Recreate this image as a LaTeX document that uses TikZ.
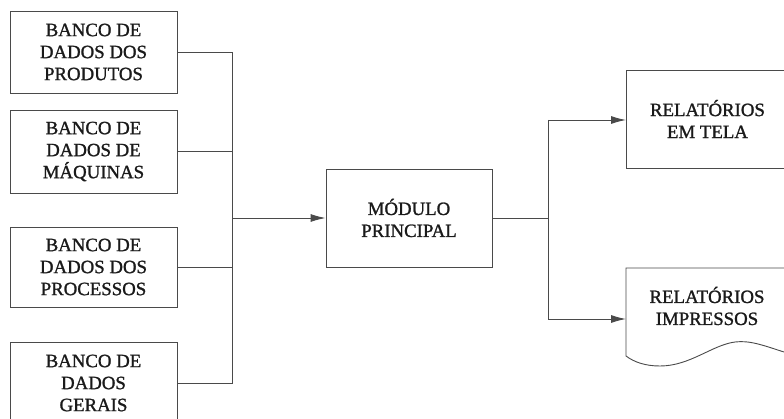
\documentclass[tikz,border=0pt]{standalone}
\usepackage{fontspec}
\setmainfont{Liberation Serif}[FakeBold=1.2]
\usetikzlibrary{arrows.meta}
\definecolor{linec}{HTML}{4A4A4A}
\definecolor{txtc}{HTML}{1A1A1A}
\tikzset{
  box/.style={draw=linec, line width=0.9pt, minimum width=167pt, minimum height=82pt,
    align=center, text=txtc, inner sep=0pt,
    font=\fontsize{18.8}{22}\selectfont},
  lbl/.style={align=center, text=txtc, inner sep=0pt, font=\fontsize{18.8}{22}\selectfont},
  conn/.style={draw=linec, line width=0.9pt},
  arr/.style={conn, -{Latex[length=15pt,width=8pt]}}
}
\begin{document}
\begin{tikzpicture}[x=1pt,y=-1pt]
\useasboundingbox (0,0) rectangle (784,419);
\clip (0,0) rectangle (784,419);
\fill[white] (0,0) rectangle (784,419);
% input boxes
\node[box] (p1) at (93.5,52) {BANCO DE\\DADOS DOS\\PRODUTOS};
\node[box, minimum height=83pt] (p2) at (93.5,151.5) {BANCO DE\\DADOS DE\\MÁQUINAS};
\node[box, minimum height=80pt] (p3) at (93.5,267) {BANCO DE\\DADOS DOS\\PROCESSOS};
\node[box] (p4) at (93.5,383) {BANCO DE\\DADOS\\GERAIS};
% main module
\node[box, minimum width=166pt, minimum height=98pt] (mp) at (409,218) {MÓDULO\\PRINCIPAL};
% output screen reports
\node[box, minimum width=162pt, minimum height=98pt, anchor=west] (rt) at (626,119) {RELATÓRIOS\\EM TELA};
% printed document
\coordinate (dw) at (626,319);
\draw[conn] (626,268) -- (800,268) -- (800,352) -- (784,352)
  .. controls (765,346) and (750,340) .. (735,342)
  .. controls (712,345) and (690,366) .. (660,366)
  .. controls (645,366) and (634,362) .. (626,356) -- cycle;
\node[lbl] (ri) at (707,306) {RELATÓRIOS\\IMPRESSOS};
% bus on left
\coordinate (bt) at (232,52);
\coordinate (bb) at (232,383);
\draw[conn] (p1.east) -- (bt) -- (bb) -- (p4.east);
\draw[conn] (p2.east) -- (p2.east -| bt);
\draw[conn] (p3.east) -- (p3.east -| bt);
\draw[arr] (bt |- mp.west) -- (mp.west);
% output bus
\coordinate (ob) at (548,218);
\coordinate (obt) at (548,120);
\coordinate (obb) at (548,319);
\draw[conn] (mp.east) -- (ob);
\draw[conn] (obt) -- (obb);
\draw[arr] (obt) -- (rt.west |- obt);
\draw[arr] (obb) -- (dw);
\end{tikzpicture}
\end{document}
